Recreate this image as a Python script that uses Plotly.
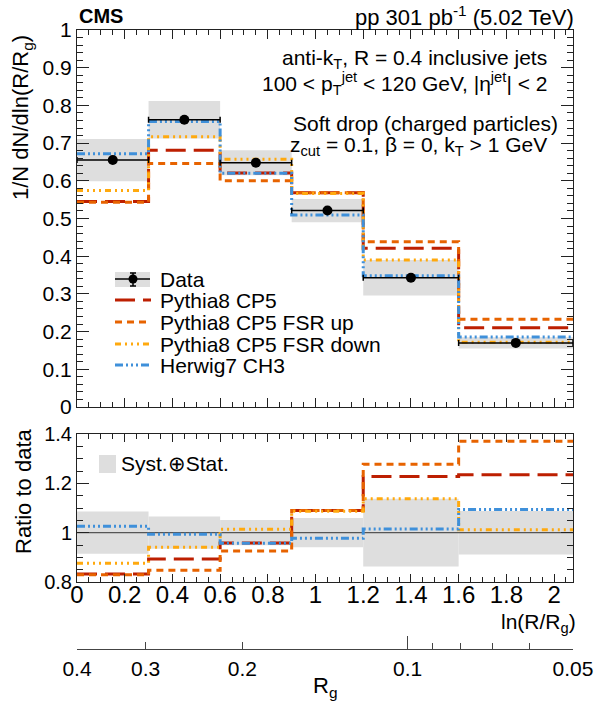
import numpy as np
import plotly.graph_objects as go

# ---- binning in ln(R/Rg), R = 0.4 jets ----
R_JET = 0.4
edges = [0.0, 0.3, 0.6, 0.9, 1.2, 1.6, float(np.log(8.0))]

# ---- unfolded data and model predictions (1/N dN/dln(R/Rg)) ----
data_val = [0.655, 0.762, 0.648, 0.521, 0.343, 0.170]
data_stat = [0.004, 0.004, 0.004, 0.004, 0.003, 0.002]
data_tot = [0.056, 0.050, 0.033, 0.031, 0.047, 0.015]
pythia = [0.545, 0.681, 0.621, 0.568, 0.421, 0.210]
fsr_up = [0.543, 0.646, 0.600, 0.568, 0.438, 0.233]
fsr_down = [0.574, 0.717, 0.657, 0.566, 0.390, 0.172]
herwig = [0.672, 0.757, 0.620, 0.509, 0.348, 0.186]

# ---- Rg tick labels on the secondary axis ----
rg_major = [0.4, 0.3, 0.2, 0.1, 0.05]
rg_major_text = ["0.4", "0.3", "0.2", "0.1", "0.05"]
rg_minor = [0.09, 0.08, 0.07, 0.06]
rg_decade = [0.1]

models = [
    ("Pythia8 CP5", pythia, "#bd1f01", "20px,8px"),
    ("Pythia8 CP5 FSR up", fsr_up, "#e76300", "7px,5px"),
    ("Pythia8 CP5 FSR down", fsr_down, "#ffa90e", "6px,4px,2px,4px,2px,4px,2px,4px"),
    ("Herwig7 CH3", herwig, "#3f90da", "8px,3px,2px,3px,2px,3px,2px,3px"),
]

FONT = "Liberation Sans, Arial, Helvetica, sans-serif"
AX = "#222222"

e = np.array(edges)
centers = 0.5 * (e[1:] + e[:-1])
widths = e[1:] - e[:-1]
dval = np.array(data_val)
dtot = np.array(data_tot)
xmax = edges[-1]


def step_y(vals):
    v = list(vals)
    return v + [v[-1]]


fig = go.Figure()

# uncertainty bands
fig.add_trace(go.Bar(x=centers, y=2 * dtot, base=dval - dtot, width=widths,
                     marker=dict(color="#dedede", line=dict(width=0)),
                     xaxis="x", yaxis="y", showlegend=False, hoverinfo="skip"))
rel = dtot / dval
fig.add_trace(go.Bar(x=centers, y=2 * rel, base=1 - rel, width=widths,
                     marker=dict(color="#dedede", line=dict(width=0)),
                     xaxis="x2", yaxis="y2", showlegend=False, hoverinfo="skip"))

# unity line in the ratio panel
fig.add_trace(go.Scatter(x=edges, y=step_y(np.ones(len(data_val))), mode="lines",
                         line=dict(color="#555555", width=1.2, shape="hv"),
                         xaxis="x2", yaxis="y2", showlegend=False, hoverinfo="skip"))

for name, vals, col, dash in models:
    fig.add_trace(go.Scatter(x=edges, y=step_y(vals), mode="lines", name=name,
                             line=dict(color=col, width=3, dash=dash, shape="hv"),
                             xaxis="x", yaxis="y", showlegend=False))
    ratio = np.array(vals) / dval
    fig.add_trace(go.Scatter(x=edges, y=step_y(ratio), mode="lines", name=name,
                             line=dict(color=col, width=3, dash=dash, shape="hv"),
                             xaxis="x2", yaxis="y2", showlegend=False))

# data points
fig.add_trace(go.Scatter(
    x=centers, y=data_val, mode="markers", name="Data",
    marker=dict(color="black", size=10),
    error_x=dict(type="data", array=widths / 2, color="black", thickness=1.5, width=3),
    error_y=dict(type="data", array=data_stat, color="black", thickness=1.5, width=3),
    xaxis="x", yaxis="y", showlegend=False))

# carrier traces for the Rg axes
fig.add_trace(go.Scatter(x=[], y=[], xaxis="x3", yaxis="y3", showlegend=False))
fig.add_trace(go.Scatter(x=[], y=[], xaxis="x4", yaxis="y3", showlegend=False))

# ---- layout geometry (pixels) ----
W, H = 596, 702
L, Rm, T, B = 77, 23, 30, 53
pw, ph = W - L - Rm, H - T - B


def px(x):
    return (x - L) / pw


def py(y):
    return (H - B - y) / ph


common_x = dict(range=[0, xmax], showgrid=False, zeroline=False, showline=True,
                linecolor=AX, linewidth=1, mirror="allticks", ticks="inside",
                tickcolor=AX, tickwidth=1, tick0=0, dtick=0.2, automargin=False,
                minor=dict(dtick=0.05, ticklen=5, ticks="inside", tickcolor=AX))

fig.update_layout(
    width=W, height=H, margin=dict(l=L, r=Rm, t=T, b=B, autoexpand=False),
    paper_bgcolor="white", plot_bgcolor="white",
    font=dict(family=FONT, color="black"),
    barmode="overlay", showlegend=False,
    xaxis=dict(**common_x, anchor="y", ticklen=9, showticklabels=False),
    xaxis2=dict(**common_x, anchor="y2", ticklen=8, showticklabels=True,
                ticklabelstandoff=-9, tickfont=dict(size=24, family=FONT)),
    yaxis=dict(domain=[py(407), 1], range=[0, 1], showgrid=False, zeroline=False,
               showline=True, linecolor=AX, linewidth=1, mirror="allticks",
               ticks="inside", ticklen=12, tickcolor=AX, tick0=0, dtick=0.1,
               automargin=False,
               minor=dict(dtick=0.02, ticklen=6, ticks="inside", tickcolor=AX),
               tickfont=dict(size=21, family=FONT)),
    yaxis2=dict(domain=[py(582), py(434)], range=[0.8, 1.4], showgrid=False,
                zeroline=False, showline=True, linecolor=AX, linewidth=1,
                mirror="allticks", ticks="inside", ticklen=12, tickcolor=AX,
                tick0=0.8, dtick=0.2, automargin=False,
                minor=dict(dtick=0.05, ticklen=6, ticks="inside", tickcolor=AX),
                tickfont=dict(size=20, family=FONT)),
    xaxis3=dict(anchor="y3", range=[0, xmax], showgrid=False, zeroline=False,
                showline=True, linecolor="#444444", linewidth=1, ticks="inside",
                ticklen=7, tickcolor="#444444", automargin=False,
                tickmode="array",
                tickvals=[float(np.log(R_JET / v)) for v in rg_major],
                ticktext=rg_major_text, ticklabelstandoff=1,
                minor=dict(tickmode="array",
                           tickvals=[float(np.log(R_JET / v)) for v in rg_minor],
                           ticklen=6, ticks="inside", tickcolor="#444444"),
                tickfont=dict(size=21, family=FONT)),
    xaxis4=dict(anchor="y3", overlaying="x3", range=[0, xmax], showgrid=False,
                zeroline=False, showline=False, ticks="inside", ticklen=13,
                tickcolor="#444444", tickmode="array", automargin=False,
                tickvals=[float(np.log(R_JET / v)) for v in rg_decade],
                showticklabels=False),
    yaxis3=dict(domain=[0, 0.001], range=[0, 1], visible=False),
)

ann = []


def text(x, y, s, size, xa="left", ya="middle", angle=0, bold=False):
    ann.append(dict(x=px(x), y=py(y), xref="paper", yref="paper", text=s,
                    showarrow=False, xanchor=xa, yanchor=ya, textangle=angle,
                    font=dict(size=size, family=FONT, color="black",
                              weight="bold" if bold else "normal")))


text(77, 16, "CMS", 20, bold=True)
text(576, 16, "pp 301 pb<sup>-1</sup> (5.02 TeV)", 22, xa="right")
text(549, 59, "anti-k<sub>T</sub>, R = 0.4 inclusive jets", 21, xa="right")
text(549, 83, "100 &lt; p<sub>T</sub><sup>jet</sup> &lt; 120 GeV, |η<sup>jet</sup>| &lt; 2", 21, xa="right")
text(560, 123, "Soft drop (charged particles)", 21, xa="right")
text(549, 146, "z<sub>cut</sub> = 0.1, β = 0, k<sub>T</sub> &gt; 1 GeV", 21, xa="right")

text(22, 118, "1/N dN/dln(R/R<sub>g</sub>)", 22, xa="center", angle=-90)
text(23, 491, "Ratio to data", 22, xa="center", angle=-90)
text(578, 623, "ln(R/R<sub>g</sub>)", 21, xa="right")
text(325, 687, "R<sub>g</sub>", 22, xa="center")

# legend entries
leg_rows = [279, 300, 322, 344, 365]
labels = ["Data"] + [m[0] for m in models]
for yy, lab in zip(leg_rows, labels):
    text(158, yy, lab, 21)
text(119, 463, "Syst.⊕Stat.", 21)

shapes = []


def rect(x0, y0, x1, y1, col):
    shapes.append(dict(type="rect", xref="paper", yref="paper", x0=px(x0), x1=px(x1),
                       y0=py(y1), y1=py(y0), fillcolor=col, line=dict(width=0)))


def seg(x0, y0, x1, y1, col, w, dash="solid"):
    shapes.append(dict(type="line", xref="paper", yref="paper", x0=px(x0), x1=px(x1),
                       y0=py(y0), y1=py(y1), line=dict(color=col, width=w, dash=dash)))


rect(115, 272, 150, 287, "#dedede")
seg(115, 279, 150, 279, "black", 1.5)
seg(133, 273, 133, 286, "black", 1.5)
seg(130, 273, 136, 273, "black", 1.5)
seg(130, 286, 136, 286, "black", 1.5)
shapes.append(dict(type="circle", xref="paper", yref="paper",
                   x0=px(128.5), x1=px(137.5), y0=py(283.5), y1=py(274.5),
                   fillcolor="black", line=dict(width=0)))
for yy, (_, _, col, dash) in zip(leg_rows[1:], models):
    seg(115, yy, 151, yy, col, 3, dash)
rect(99, 455, 116, 473, "#dedede")

fig.update_layout(annotations=ann, shapes=shapes)
fig.write_html("out.html")
